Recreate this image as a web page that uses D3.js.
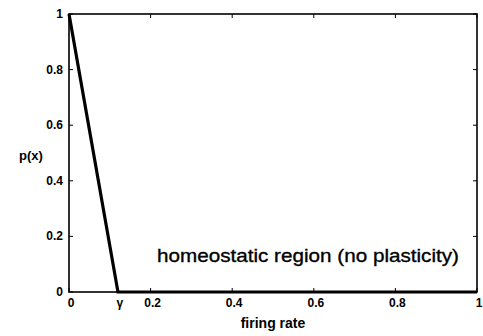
<!DOCTYPE html>
<html>
<head>
<meta charset="utf-8">
<script src="https://cdn.jsdelivr.net/npm/d3@7"></script>
<style>
  body { margin: 0; background: #fff; }
  text { font-family: "Liberation Sans", Arial, Helvetica, sans-serif; fill: #000; }
</style>
</head>
<body>
<div id="chart"></div>
<script>
  const WIDTH = 483;
  const HEIGHT = 336;

  // data: p(x) vs firing rate
  const rateValues = [0, 0.12, 1];
  const pValues = [1, 0, 0];

  const xTickValues = [0, 0.12, 0.2, 0.4, 0.6, 0.8, 1];
  const xTickLabels = ["0", "γ", "0.2", "0.4", "0.6", "0.8", "1"];
  const yTickValues = [0, 0.2, 0.4, 0.6, 0.8, 1];
  const yTickLabels = ["0", "0.2", "0.4", "0.6", "0.8", "1"];

  const annotation = "homeostatic region (no plasticity)";

  const margin = { left: 69, right: 6, top: 14, bottom: 44 };

  const svg = d3.select("#chart").append("svg")
    .attr("width", WIDTH)
    .attr("height", HEIGHT);

  const x = d3.scaleLinear().domain([0, 1]).range([margin.left, WIDTH - margin.right]);
  const y = d3.scaleLinear().domain([0, 1]).range([HEIGHT - margin.bottom, margin.top]);

  // box
  svg.append("rect")
    .attr("x", x(0)).attr("y", y(1))
    .attr("width", x(1) - x(0)).attr("height", y(0) - y(1))
    .attr("fill", "none").attr("stroke", "#000").attr("stroke-width", 1.6);

  // inward ticks on all four sides
  const tickLen = 4;
  const tk = svg.append("g").attr("stroke", "#000").attr("stroke-width", 1);
  xTickValues.filter((d, i) => xTickLabels[i] !== "γ").forEach(v => {
    tk.append("line").attr("x1", x(v)).attr("x2", x(v)).attr("y1", y(0)).attr("y2", y(0) - tickLen);
    tk.append("line").attr("x1", x(v)).attr("x2", x(v)).attr("y1", y(1)).attr("y2", y(1) + tickLen);
  });
  yTickValues.forEach(v => {
    tk.append("line").attr("x1", x(0)).attr("x2", x(0) + tickLen).attr("y1", y(v)).attr("y2", y(v));
    tk.append("line").attr("x1", x(1)).attr("x2", x(1) - tickLen).attr("y1", y(v)).attr("y2", y(v));
  });

  // tick labels
  svg.append("g").selectAll("text")
    .data(xTickValues)
    .enter().append("text")
    .attr("x", d => x(d) + 2)
    .attr("y", y(0) + 15)
    .attr("text-anchor", "middle")
    .style("font-size", "12px")
    .style("font-weight", "bold")
    .text((d, i) => xTickLabels[i]);

  svg.append("g").selectAll("text")
    .data(yTickValues)
    .enter().append("text")
    .attr("x", x(0) - 6)
    .attr("y", d => y(d) + 4)
    .attr("text-anchor", "end")
    .style("font-size", "12px")
    .style("font-weight", "bold")
    .text((d, i) => yTickLabels[i]);

  // axis labels
  svg.append("text")
    .attr("x", 273)
    .attr("y", HEIGHT - 8)
    .attr("text-anchor", "middle")
    .style("font-size", "14px")
    .style("font-weight", "bold")
    .text("firing rate");

  svg.append("text")
    .attr("x", 19)
    .attr("y", 160)
    .style("font-size", "13px")
    .style("font-weight", "bold")
    .text("p(x)");

  // the curve
  const line = d3.line().x((d, i) => x(rateValues[i])).y(d => y(d));
  svg.append("path")
    .datum(pValues)
    .attr("d", line)
    .attr("fill", "none")
    .attr("stroke", "#000")
    .attr("stroke-width", 3.2)
    .attr("stroke-linejoin", "miter");

  svg.append("text")
    .attr("x", 157)
    .attr("y", 262)
    .attr("textLength", 302)
    .attr("lengthAdjust", "spacingAndGlyphs")
    .style("font-size", "19px")
    .style("stroke", "#000")
    .style("stroke-width", 0.35)
    .text(annotation);
</script>
</body>
</html>
